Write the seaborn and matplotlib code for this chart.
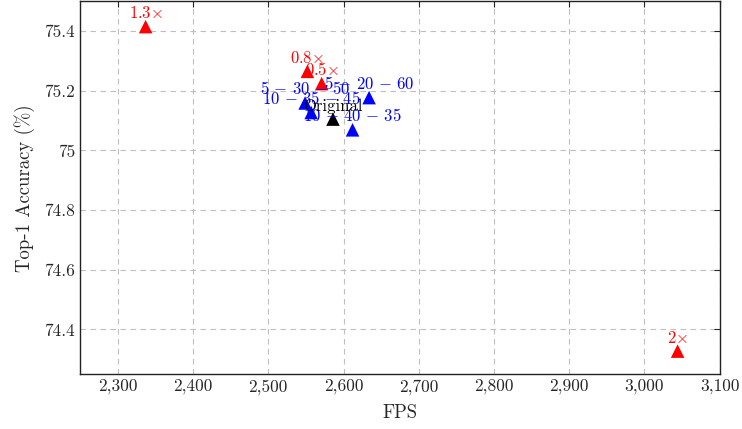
import matplotlib
matplotlib.use("Agg")
import pandas as pd
import seaborn as sns
import matplotlib.pyplot as plt
from matplotlib.ticker import FuncFormatter

# values
labels = ["$1.3{\\times}$", "$0.8{\\times}$", "$0.5{\\times}$", "$2{\\times}$",
          "$5\\,-\\,20\\,-\\,60$", "$5\\,-\\,30\\,-\\,50$",
          "$10\\,-\\,35\\,-\\,45$", "$10\\,-\\,40\\,-\\,35$", "Original"]
fps = [2337, 2552, 2571, 3044, 2634, 2549, 2557, 2612, 2586]
acc = [75.415, 75.265, 75.224, 74.327, 75.177, 75.159, 75.127, 75.069, 75.105]
group = ["scale", "scale", "scale", "scale",
         "split", "split", "split", "split", "orig"]
colors = {"scale": "#ff0000", "split": "#0000ff", "orig": "#000000"}

xticks = [2300, 2400, 2500, 2600, 2700, 2800, 2900, 3000, 3100]
yticks = [74.4, 74.6, 74.8, 75.0, 75.2, 75.4]

tabela = pd.DataFrame({"fps": fps, "acc": acc, "grupo": group, "nome": labels})

sns.set_style("white")
plt.rcParams["font.family"] = ["cmr10", "DejaVu Serif"]
plt.rcParams["mathtext.fontset"] = "cm"
plt.rcParams["axes.formatter.use_mathtext"] = True
plt.rcParams["font.size"] = 12.5

fig = plt.figure(figsize=(7.42, 4.29), dpi=100)
ax = fig.add_axes([0.108, 0.128, 0.862, 0.869])

sns.scatterplot(data=tabela, x="fps", y="acc", hue="grupo", palette=colors,
                marker="^", s=95, edgecolor="none", legend=False, ax=ax, zorder=3)

for _, r in tabela.iterrows():
    ax.annotate(r["nome"], (r["fps"], r["acc"]), xytext=(0, 4),
                textcoords="offset points", ha="center", va="bottom",
                color=colors[r["grupo"]], fontsize=12, zorder=4)

ax.set_xlim(2250, 3100)
ax.set_ylim(74.25, 75.5)
ax.set_xticks(xticks)
ax.set_yticks(yticks)
ax.xaxis.set_major_formatter(FuncFormatter(lambda v, p: f"{v:,.0f}"))
ax.yaxis.set_major_formatter(FuncFormatter(lambda v, p: f"{v:g}"))
ax.grid(True, linestyle=(0, (5, 4)), color="#bfbfbf", linewidth=0.8)
ax.tick_params(direction="in", top=True, right=True, length=4, width=0.8,
               labelsize=12.5)
for s in ax.spines.values():
    s.set_color("#222222")
    s.set_linewidth(1.0)

ax.set_xlabel("FPS", fontsize=13.5, labelpad=7)
ax.set_ylabel("Top-1 Accuracy (%)", fontsize=13.5, labelpad=7)

fig.savefig("out.png", dpi=100)
